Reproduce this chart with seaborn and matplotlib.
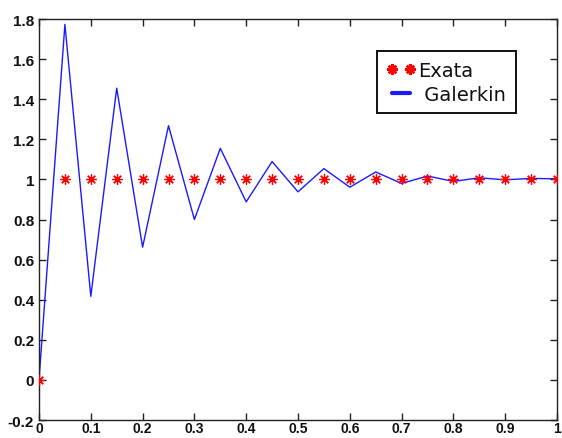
import matplotlib
matplotlib.use("Agg")
import matplotlib.pyplot as plt
from matplotlib.lines import Line2D
import numpy as np
import pandas as pd
import seaborn as sns

# Nodes of the mesh (h = 0.05)
x_nodes = [0.00, 0.05, 0.10, 0.15, 0.20, 0.25, 0.30, 0.35, 0.40, 0.45, 0.50,
           0.55, 0.60, 0.65, 0.70, 0.75, 0.80, 0.85, 0.90, 0.95, 1.00]
# Exact solution at the nodes
exata = [0.0, 1.0, 1.0, 1.0, 1.0, 1.0, 1.0, 1.0, 1.0, 1.0, 1.0,
         1.0, 1.0, 1.0, 1.0, 1.0, 1.0, 1.0, 1.0, 1.0, 1.0]
# Galerkin approximation at the nodes
galerkin = [0.0, 1.773, 0.417, 1.455, 0.662, 1.268, 0.800, 1.155, 0.888, 1.089, 0.938,
            1.054, 0.961, 1.037, 0.980, 1.017, 0.990, 1.008, 0.998, 1.005, 1.003]

x_ticks = [0, 0.1, 0.2, 0.3, 0.4, 0.5, 0.6, 0.7, 0.8, 0.9, 1]
x_tick_labels = ["0", "0.1", "0.2", "0.3", "0.4", "0.5", "0.6", "0.7", "0.8", "0.9", "1"]
y_ticks = [-0.2, 0, 0.2, 0.4, 0.6, 0.8, 1, 1.2, 1.4, 1.6, 1.8]
y_tick_labels = ["-0.2", "0", "0.2", "0.4", "0.6", "0.8", "1", "1.2", "1.4", "1.6", "1.8"]
legend_labels = ["Exata", " Galerkin"]

sns.set_style("white")
plt.rcParams["font.family"] = ["Liberation Sans", "DejaVu Sans"]

df = pd.DataFrame({"x": x_nodes, "Exata": exata, "Galerkin": galerkin})

fig = plt.figure(figsize=(5.62, 4.39), dpi=100)
ax = fig.add_axes([0.0694, 0.041, 0.9217, 0.9134])

sns.lineplot(data=df, x="x", y="Galerkin", ax=ax, color="#1a1aff", lw=1.0,
             estimator=None, sort=False, zorder=2)
star = (8, 2, 0)
sns.lineplot(data=df, x="x", y="Exata", ax=ax, linestyle="none", marker=star,
             markersize=7.5, markeredgecolor="#ff0000", markerfacecolor="#ff0000",
             markeredgewidth=0.9, estimator=None, sort=False, zorder=3)

ax.set_xlim(0, 1)
ax.set_ylim(-0.2, 1.8)
ax.set_xticks(x_ticks)
ax.set_xticklabels(x_tick_labels)
ax.set_yticks(y_ticks)
ax.set_yticklabels(y_tick_labels)
ax.set_xlabel("")
ax.set_ylabel("")

ax.tick_params(axis="both", which="both", direction="in", length=5, width=1,
               top=True, right=True, bottom=True, left=True,
               labelsize=11, colors="#222222", labelcolor="#111111")
# bottom labels kept compact so they sit inside the narrow lower margin
ax.tick_params(axis="x", pad=0.8, labelsize=10)
ax.tick_params(axis="y", pad=3.5)
for lbl in ax.get_xticklabels() + ax.get_yticklabels():
    lbl.set_fontweight("bold")

for side in ["left", "right", "top", "bottom"]:
    ax.spines[side].set_visible(True)
    ax.spines[side].set_color("#222222")
    ax.spines[side].set_linewidth(1.0)

handles = [
    Line2D([], [], linestyle="none", marker=star, markersize=7.5,
           markeredgecolor="#ff0000", markerfacecolor="#ff0000", markeredgewidth=1.8),
    Line2D([], [], color="#1a1aff", lw=3),
]
leg = ax.legend(handles, legend_labels, loc="upper right",
                bbox_to_anchor=(0.921, 0.92), numpoints=2, frameon=True,
                fancybox=False, shadow=False, framealpha=1, edgecolor="#111111",
                prop={"family": ["DejaVu Sans"], "size": 14},
                handlelength=1.5, handletextpad=0.15, borderpad=0.5,
                labelspacing=0.25, borderaxespad=0)
leg.get_frame().set_linewidth(1.4)
for t in leg.get_texts():
    t.set_color("#111111")

fig.savefig("out.png", dpi=100, facecolor="white")
